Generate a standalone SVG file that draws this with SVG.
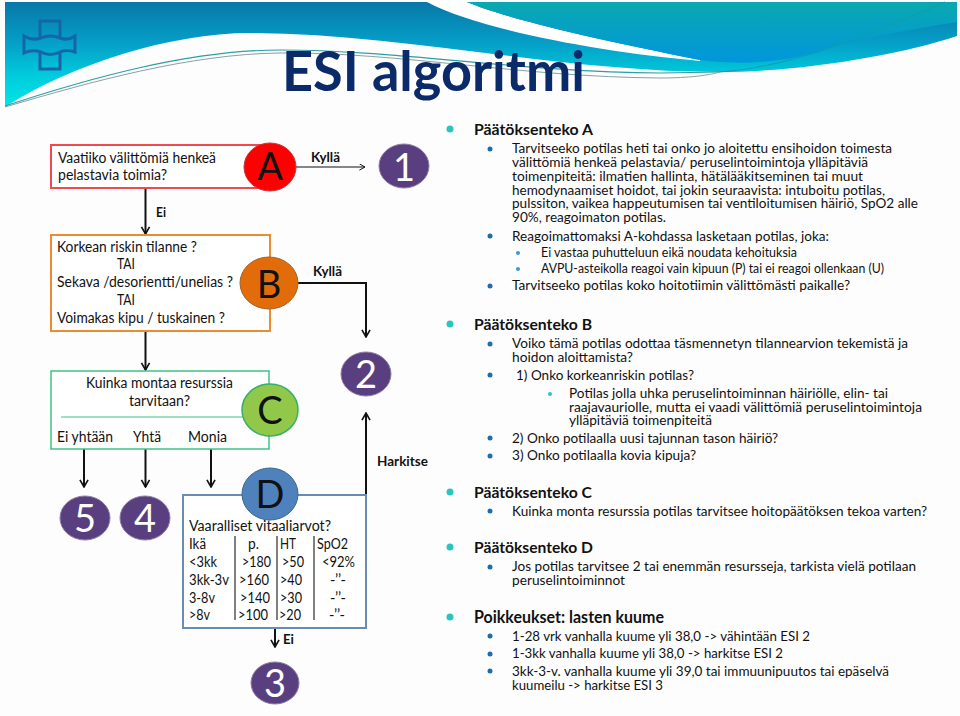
<svg xmlns="http://www.w3.org/2000/svg" width="960" height="716" viewBox="0 0 960 716">
<style>
text{font-family:Lato,"Liberation Sans",sans-serif;fill:#111}
.l{font-size:15.5px}
.b{font-size:13.5px;font-weight:700}
.h{font-size:15.5px;font-weight:700}
.t{font-size:14.2px}
.u{font-size:12.6px}
.L{font-size:38px;text-anchor:middle}
.N{font-size:38px;fill:#fff;text-anchor:middle}
.num{fill:#5a3f80;stroke:#8d7fa3;stroke-width:1}
.box{fill:#fff;stroke-width:2}
.conn{fill:none;stroke:#111;stroke-width:2}
.thin{fill:none;stroke:#111;stroke-width:1.2}
.d0{fill:#2bc4c0}.d1{fill:#1f6bb0}.d2{fill:#3a9cc8}
.vl{stroke:#555;stroke-width:1.5}
</style>
<defs>
<linearGradient id="g1" gradientUnits="userSpaceOnUse" x1="0" y1="2" x2="0" y2="107"><stop offset="0" stop-color="#0877a8"/><stop offset=".4" stop-color="#05a0c8"/><stop offset=".7" stop-color="#00cbdc"/><stop offset="1" stop-color="#00e6e8"/></linearGradient>
<linearGradient id="g2" gradientUnits="userSpaceOnUse" x1="0" y1="2" x2="0" y2="65"><stop offset="0" stop-color="#0aa8b0"/><stop offset="1" stop-color="#0096de"/></linearGradient>
<marker id="ah" viewBox="0 0 10 10" refX="9" refY="5" markerWidth="4.5" markerHeight="5.5" orient="auto"><path d="M1,0.5 L9,5 L1,9.5" fill="none" stroke="#111" stroke-width="1.8"/></marker>
<marker id="at" viewBox="0 0 10 10" refX="9" refY="5" markerWidth="7" markerHeight="7" orient="auto" markerUnits="userSpaceOnUse"><path d="M1,0.5 L9,5 L1,9.5" fill="none" stroke="#111" stroke-width="1.4"/></marker>
</defs>
<rect width="960" height="716" fill="#fdfdfd"/>
<g id="banner">
<path d="M5,2 L957,2 L957,36 C900,55 800,72 720,72 C560,72 400,33 250,33 C170,33 70,65 5,107 Z" fill="url(#g1)"/>
<path d="M427,2 L467,2 C510,20 600,40 700,60 L700,61 C600,52 480,30 427,2 Z" fill="#fff"/>
<path d="M467,2 L957,2 L957,22 C920,28 870,36 830,48 C790,62 745,66 700,60 C600,40 510,20 467,2 Z" fill="url(#g2)"/>
<path d="M720,72 C800,66 880,30 945,2" fill="none" stroke="#0f9fa8" stroke-width="1"/>
<path d="M5,106 C90,78 190,50 280,50 C400,50 520,72 660,73 L720,72" fill="none" stroke="#2a9fa6" stroke-width="1.2"/>
<path d="M5,107 C90,82 190,54 280,53 C400,52 520,77 660,78 C690,78 710,75 720,72" fill="none" stroke="#8a9fa6" stroke-width="1"/>
<path d="M40,38 V21 H60 V38 M40,53 V69 H60 V53 M24,36 Q32,41 41,38 Q50,34 60,38 Q68,41 75,36 V52 Q67,49 60,52 Q50,57 41,52 Q32,49 24,53 Z" fill="none" stroke="#1466a8" stroke-width="3"/>
<text x="282" y="91" font-size="56" font-weight="700" style="fill:#0a2a6a" textLength="303" lengthAdjust="spacingAndGlyphs">ESI algoritmi</text>
</g>
<g id="connectors">
<path class="thin" d="M296,167 H365" marker-end="url(#at)"/>
<path class="conn" d="M145.500,188 V234" marker-end="url(#ah)"/>
<path class="conn" d="M298,283 H366 V337" marker-end="url(#ah)"/>
<path class="conn" d="M145.500,331 V370" marker-end="url(#ah)"/>
<path class="conn" d="M84,449 V487" marker-end="url(#ah)"/>
<path class="conn" d="M145.500,449 V487" marker-end="url(#ah)"/>
<path class="conn" d="M211,449 V487" marker-end="url(#ah)"/>
<path class="conn" d="M366,495 V413" marker-end="url(#ah)"/>
<path class="conn" d="M275,628 V647" marker-end="url(#ah)"/>
<text class="b" x="311" y="162" textLength="29" lengthAdjust="spacingAndGlyphs">Kyllä</text>
<text class="b" x="156" y="217" textLength="10" lengthAdjust="spacingAndGlyphs">Ei</text>
<text class="b" x="313" y="276" textLength="29" lengthAdjust="spacingAndGlyphs">Kyllä</text>
<text class="b" x="377" y="466" textLength="51" lengthAdjust="spacingAndGlyphs">Harkitse</text>
<text class="b" x="283" y="644" textLength="11" lengthAdjust="spacingAndGlyphs">Ei</text>
</g>
<g id="node-A">
<rect class="box" x="51" y="145" width="219" height="43" stroke="#f04a50"/>
<ellipse cx="270" cy="167" rx="26" ry="24" fill="#fe0000" stroke="#c8353a"/>
<text class="L" x="270" y="180">A</text>
<text class="l" x="58" y="163" textLength="158" lengthAdjust="spacingAndGlyphs">Vaatiiko välittömiä henkeä</text>
<text class="l" x="58" y="180" textLength="109" lengthAdjust="spacingAndGlyphs">pelastavia toimia?</text>
</g>
<g id="node-1"><ellipse class="num" cx="404" cy="166" rx="25" ry="22"/><text class="N" x="404" y="181">1</text></g>
<g id="node-B">
<rect class="box" x="51" y="235" width="219" height="96" stroke="#ed8b35"/>
<ellipse cx="269" cy="283" rx="29" ry="26" fill="#e36c0a" stroke="#a5622a"/>
<text class="L" x="269" y="298">B</text>
<text class="l" x="57" y="252" textLength="140" lengthAdjust="spacingAndGlyphs">Korkean riskin tilanne ?</text>
<text class="l" x="117" y="269" textLength="18" lengthAdjust="spacingAndGlyphs">TAI</text>
<text class="l" x="57" y="287" textLength="176" lengthAdjust="spacingAndGlyphs">Sekava /desorientti/unelias ?</text>
<text class="l" x="117" y="305" textLength="18" lengthAdjust="spacingAndGlyphs">TAI</text>
<text class="l" x="57" y="323" textLength="168" lengthAdjust="spacingAndGlyphs">Voimakas kipu / tuskainen ?</text>
</g>
<g id="node-2"><ellipse class="num" cx="366" cy="374" rx="25" ry="22"/><text class="N" x="366" y="388">2</text></g>
<g id="node-C">
<rect class="box" x="51" y="371" width="218" height="78" stroke="#3ec383" style="stroke-width:1.5"/>
<path d="M61,417 H245" stroke="#3ec383" stroke-width="1.2"/>
<ellipse cx="270" cy="410" rx="28" ry="26" fill="#92c84a" stroke="#35b06a" stroke-width="1.5"/>
<text class="L" x="270" y="424">C</text>
<text class="l" x="86" y="388" textLength="147" lengthAdjust="spacingAndGlyphs">Kuinka montaa resurssia</text>
<text class="l" x="129" y="406" textLength="61" lengthAdjust="spacingAndGlyphs">tarvitaan?</text>
<text class="l" x="57" y="442" textLength="56" lengthAdjust="spacingAndGlyphs">Ei yhtään</text>
<text class="l" x="133" y="442" textLength="28" lengthAdjust="spacingAndGlyphs">Yhtä</text>
<text class="l" x="188" y="442" textLength="39" lengthAdjust="spacingAndGlyphs">Monia</text>
</g>
<g id="node-5"><ellipse class="num" cx="85" cy="518" rx="25" ry="22"/><text class="N" x="85" y="532">5</text></g>
<g id="node-4"><ellipse class="num" cx="145" cy="518" rx="25" ry="22"/><text class="N" x="145" y="532">4</text></g>
<g id="node-D">
<rect class="box" x="183" y="495" width="183" height="133" stroke="#6a8cb4"/>
<ellipse cx="270" cy="494" rx="28" ry="26" fill="#4f81bd" stroke="#3a6a8a"/>
<text class="L" x="270" y="508">D</text>
<text class="l" x="189" y="531" textLength="142" lengthAdjust="spacingAndGlyphs">Vaaralliset vitaaliarvot?</text>
<path class="vl" d="M235,536 V620 M277,536 V620 M314,536 V620"/>
<text class="l" x="189" y="549" textLength="17" lengthAdjust="spacingAndGlyphs">Ikä</text>
<text class="l" x="248" y="549" textLength="11" lengthAdjust="spacingAndGlyphs">p.</text>
<text class="l" x="280" y="549" textLength="16" lengthAdjust="spacingAndGlyphs">HT</text>
<text class="l" x="317" y="549" textLength="31" lengthAdjust="spacingAndGlyphs">SpO2</text>
<text class="l" x="189" y="567" textLength="28" lengthAdjust="spacingAndGlyphs">&lt;3kk</text>
<text class="l" x="242" y="567" textLength="29" lengthAdjust="spacingAndGlyphs">&gt;180</text>
<text class="l" x="282" y="567" textLength="22" lengthAdjust="spacingAndGlyphs">&gt;50</text>
<text class="l" x="322" y="567" textLength="33" lengthAdjust="spacingAndGlyphs">&lt;92%</text>
<text class="l" x="189" y="585" textLength="40" lengthAdjust="spacingAndGlyphs">3kk-3v</text>
<text class="l" x="239" y="585" textLength="30" lengthAdjust="spacingAndGlyphs">&gt;160</text>
<text class="l" x="280" y="585" textLength="22" lengthAdjust="spacingAndGlyphs">&gt;40</text>
<text class="l" x="330" y="585" textLength="16" lengthAdjust="spacingAndGlyphs">-’’-</text>
<text class="l" x="189" y="603" textLength="26" lengthAdjust="spacingAndGlyphs">3-8v</text>
<text class="l" x="240" y="603" textLength="30" lengthAdjust="spacingAndGlyphs">&gt;140</text>
<text class="l" x="280" y="603" textLength="22" lengthAdjust="spacingAndGlyphs">&gt;30</text>
<text class="l" x="330" y="603" textLength="16" lengthAdjust="spacingAndGlyphs">-’’-</text>
<text class="l" x="189" y="620" textLength="21" lengthAdjust="spacingAndGlyphs">&gt;8v</text>
<text class="l" x="238" y="620" textLength="30" lengthAdjust="spacingAndGlyphs">&gt;100</text>
<text class="l" x="279" y="620" textLength="22" lengthAdjust="spacingAndGlyphs">&gt;20</text>
<text class="l" x="329" y="620" textLength="16" lengthAdjust="spacingAndGlyphs">-’’-</text>
</g>
<g id="node-3"><ellipse class="num" cx="275" cy="683" rx="24" ry="21"/><text class="N" x="275" y="697">3</text></g>
<g id="text-panel">
<circle class="d0" cx="450" cy="129" r="3.500"/>
<text class="h" x="474" y="135" textLength="119" lengthAdjust="spacingAndGlyphs">Päätöksenteko A</text>
<circle class="d1" cx="490" cy="149" r="2.500"/>
<text class="t" x="512" y="153" textLength="380" lengthAdjust="spacingAndGlyphs">Tarvitseeko potilas heti tai onko jo aloitettu ensihoidon toimesta</text>
<text class="t" x="512" y="167" textLength="356" lengthAdjust="spacingAndGlyphs">välittömiä henkeä pelastavia/ peruselintoimintoja ylläpitäviä</text>
<text class="t" x="512" y="181" textLength="351" lengthAdjust="spacingAndGlyphs">toimenpiteitä: ilmatien hallinta, hätälääkitseminen tai muut</text>
<text class="t" x="512" y="194.500" textLength="373" lengthAdjust="spacingAndGlyphs">hemodynaamiset hoidot, tai jokin seuraavista: intuboitu potilas,</text>
<text class="t" x="512" y="208" textLength="406" lengthAdjust="spacingAndGlyphs">pulssiton, vaikea happeutumisen tai ventiloitumisen häiriö, SpO2 alle</text>
<text class="t" x="512" y="222" textLength="154" lengthAdjust="spacingAndGlyphs">90%, reagoimaton potilas.</text>
<circle class="d1" cx="490" cy="236" r="2.500"/>
<text class="t" x="512" y="240.500" textLength="317" lengthAdjust="spacingAndGlyphs">Reagoimattomaksi A-kohdassa lasketaan potilas, joka:</text>
<circle class="d2" cx="518" cy="253" r="2"/>
<text class="u" x="541" y="257" textLength="256" lengthAdjust="spacingAndGlyphs">Ei  vastaa puhutteluun eikä noudata kehoituksia</text>
<circle class="d2" cx="518" cy="269" r="2"/>
<text class="u" x="541" y="273" textLength="343" lengthAdjust="spacingAndGlyphs">AVPU-asteikolla reagoi vain kipuun (P) tai ei reagoi ollenkaan (U)</text>
<circle class="d1" cx="490" cy="286" r="2.500"/>
<text class="t" x="512" y="290" textLength="338" lengthAdjust="spacingAndGlyphs">Tarvitseeko potilas koko hoitotiimin välittömästi paikalle?</text>
<circle class="d0" cx="450" cy="324" r="3.500"/>
<text class="h" x="474" y="330" textLength="118" lengthAdjust="spacingAndGlyphs">Päätöksenteko B</text>
<circle class="d1" cx="490" cy="344" r="2.500"/>
<text class="t" x="512" y="348" textLength="396" lengthAdjust="spacingAndGlyphs">Voiko tämä potilas odottaa täsmennetyn tilannearvion tekemistä ja</text>
<text class="t" x="512" y="362" textLength="121" lengthAdjust="spacingAndGlyphs">hoidon aloittamista?</text>
<circle class="d1" cx="490" cy="375" r="2.500"/>
<text class="t" x="516" y="380" textLength="178" lengthAdjust="spacingAndGlyphs">1) Onko korkeanriskin potilas?</text>
<circle class="d0" cx="550" cy="394" r="2"/>
<text class="t" x="569" y="398" textLength="319" lengthAdjust="spacingAndGlyphs">Potilas jolla uhka peruselintoiminnan häiriölle, elin- tai</text>
<text class="t" x="569" y="412" textLength="353" lengthAdjust="spacingAndGlyphs">raajavauriolle, mutta ei vaadi välittömiä peruselintoimintoja</text>
<text class="t" x="569" y="425" textLength="143" lengthAdjust="spacingAndGlyphs">ylläpitäviä toimenpiteitä</text>
<circle class="d1" cx="490" cy="438" r="2.500"/>
<text class="t" x="512" y="443" textLength="266" lengthAdjust="spacingAndGlyphs">2) Onko potilaalla uusi tajunnan tason häiriö?</text>
<circle class="d1" cx="490" cy="456" r="2.500"/>
<text class="t" x="512" y="460" textLength="184" lengthAdjust="spacingAndGlyphs">3) Onko potilaalla kovia kipuja?</text>
<circle class="d0" cx="450" cy="492" r="3.500"/>
<text class="h" x="474" y="498" textLength="118" lengthAdjust="spacingAndGlyphs">Päätöksenteko C</text>
<circle class="d1" cx="490" cy="511" r="2.500"/>
<text class="t" x="512" y="516" textLength="415" lengthAdjust="spacingAndGlyphs">Kuinka monta resurssia potilas tarvitsee hoitopäätöksen tekoa varten?</text>
<circle class="d0" cx="450" cy="547" r="3.500"/>
<text class="h" x="474" y="553" textLength="119" lengthAdjust="spacingAndGlyphs">Päätöksenteko D</text>
<circle class="d1" cx="490" cy="567" r="2.500"/>
<text class="t" x="512" y="571" textLength="404" lengthAdjust="spacingAndGlyphs">Jos potilas tarvitsee 2 tai enemmän resursseja, tarkista vielä potilaan</text>
<text class="t" x="512" y="585" textLength="113" lengthAdjust="spacingAndGlyphs">peruselintoiminnot</text>
<circle class="d0" cx="450" cy="617" r="3.500"/>
<text class="h" x="474" y="623" textLength="190" lengthAdjust="spacingAndGlyphs" style="font-size:16.5px">Poikkeukset: lasten kuume</text>
<circle class="d1" cx="490" cy="636" r="2.500"/>
<text class="t" x="512" y="641" textLength="298" lengthAdjust="spacingAndGlyphs">1-28 vrk vanhalla kuume yli 38,0 -&gt; vähintään ESI 2</text>
<circle class="d1" cx="490" cy="654" r="2.500"/>
<text class="t" x="512" y="658" textLength="271" lengthAdjust="spacingAndGlyphs">1-3kk vanhalla kuume yli 38,0 -&gt; harkitse ESI 2</text>
<circle class="d1" cx="490" cy="671" r="2.500"/>
<text class="t" x="512" y="676" textLength="377" lengthAdjust="spacingAndGlyphs">3kk-3-v. vanhalla kuume yli 39,0 tai immuunipuutos tai epäselvä</text>
<text class="t" x="512" y="690" textLength="151" lengthAdjust="spacingAndGlyphs">kuumeilu -&gt; harkitse ESI 3</text>
</g>
</svg>
